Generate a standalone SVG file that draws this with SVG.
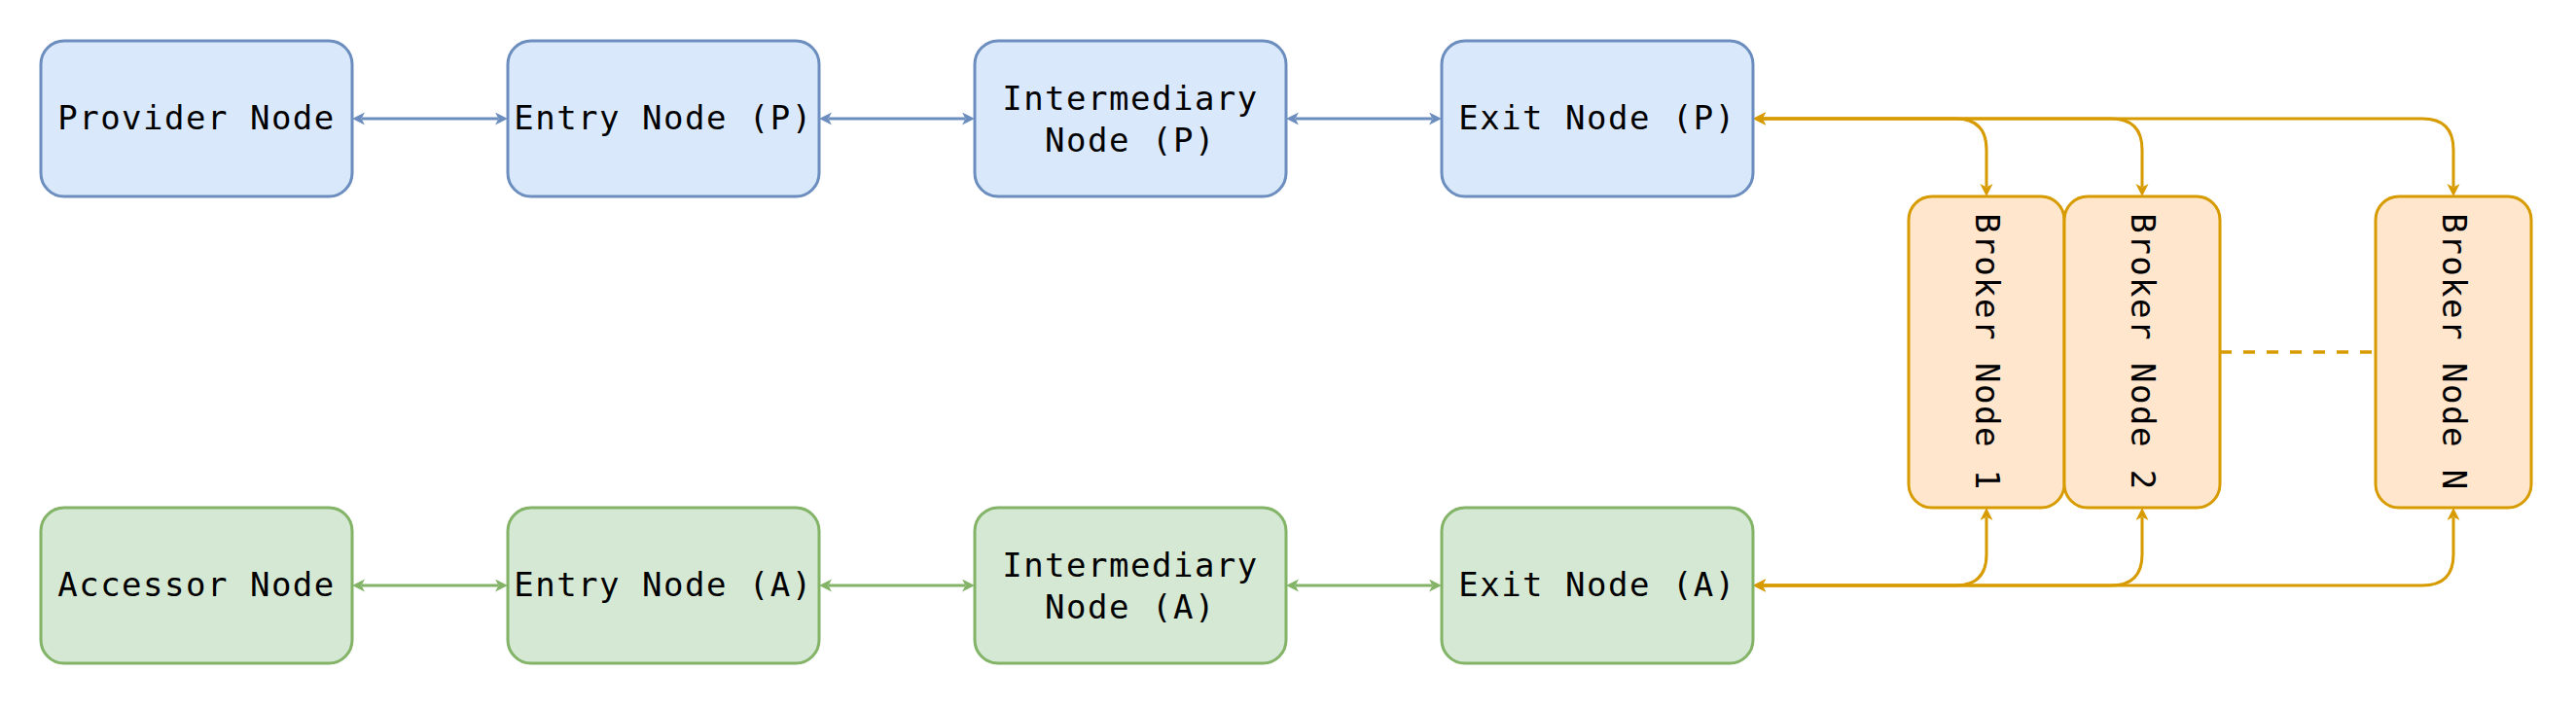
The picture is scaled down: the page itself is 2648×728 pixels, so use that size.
<svg xmlns="http://www.w3.org/2000/svg" width="2648" height="728" viewBox="0 0 2648 728">
<style>
.blue{fill:#dae8fc;stroke:#6c8ebf;stroke-width:3}
.green{fill:#d5e8d4;stroke:#82b366;stroke-width:3}
.orange{fill:#ffe6cc;stroke:#d79b00;stroke-width:3}
text{font-family:"DejaVu Sans Mono","Liberation Mono",monospace;font-size:34px;letter-spacing:1.5px;fill:#000;text-anchor:middle}
.cb{fill:none;stroke:#6c8ebf;stroke-width:3;marker-start:url(#ab);marker-end:url(#ab)}
.cg{fill:none;stroke:#82b366;stroke-width:3;marker-start:url(#ag);marker-end:url(#ag)}
.co{fill:none;stroke:#d79b00;stroke-width:3;marker-start:url(#ao);marker-end:url(#ao)}
.dash{fill:none;stroke:#d79b00;stroke-width:3.5;stroke-dasharray:12 12}
</style>
<defs>
<marker id="ab" markerUnits="userSpaceOnUse" markerWidth="14" markerHeight="14" refX="3" refY="6.5" orient="auto-start-reverse" viewBox="0 0 14 14"><path d="M0,0 L13,6.5 L0,13 L3.5,6.5 Z" fill="#6c8ebf"/></marker>
<marker id="ag" markerUnits="userSpaceOnUse" markerWidth="14" markerHeight="14" refX="3" refY="6.5" orient="auto-start-reverse" viewBox="0 0 14 14"><path d="M0,0 L13,6.5 L0,13 L3.5,6.5 Z" fill="#82b366"/></marker>
<marker id="ao" markerUnits="userSpaceOnUse" markerWidth="14" markerHeight="14" refX="3" refY="6.5" orient="auto-start-reverse" viewBox="0 0 14 14"><path d="M0,0 L13,6.5 L0,13 L3.5,6.5 Z" fill="#d79b00"/></marker>
</defs>
<rect width="2648" height="728" fill="#fff"/>
<g id="connectors">
<path class="cb" d="M372,122 H512"/>
<path class="cb" d="M852,122 H992"/>
<path class="cb" d="M1332,122 H1472"/>
<path class="cg" d="M372,602 H512"/>
<path class="cg" d="M852,602 H992"/>
<path class="cg" d="M1332,602 H1472"/>
<path class="co" d="M1812,122 H2010 Q2042,122 2042,154 V192"/>
<path class="co" d="M1812,122 H2170 Q2202,122 2202,154 V192"/>
<path class="co" d="M1812,122 H2490 Q2522,122 2522,154 V192"/>
<path class="co" d="M1812,602 H2010 Q2042,602 2042,570 V532"/>
<path class="co" d="M1812,602 H2170 Q2202,602 2202,570 V532"/>
<path class="co" d="M1812,602 H2490 Q2522,602 2522,570 V532"/>
<path class="dash" d="M2282,362 H2442"/>
</g>
<g id="provider-node"><rect class="blue" x="42" y="42" width="320" height="160" rx="24"/><text x="202" y="133">Provider Node</text></g>
<g id="entry-node-p"><rect class="blue" x="522" y="42" width="320" height="160" rx="24"/><text x="682" y="133">Entry Node (P)</text></g>
<g id="intermediary-node-p"><rect class="blue" x="1002" y="42" width="320" height="160" rx="24"/><text x="1162" y="113">Intermediary</text><text x="1162" y="156">Node (P)</text></g>
<g id="exit-node-p"><rect class="blue" x="1482" y="42" width="320" height="160" rx="24"/><text x="1642" y="133">Exit Node (P)</text></g>
<g id="accessor-node"><rect class="green" x="42" y="522" width="320" height="160" rx="24"/><text x="202" y="613">Accessor Node</text></g>
<g id="entry-node-a"><rect class="green" x="522" y="522" width="320" height="160" rx="24"/><text x="682" y="613">Entry Node (A)</text></g>
<g id="intermediary-node-a"><rect class="green" x="1002" y="522" width="320" height="160" rx="24"/><text x="1162" y="593">Intermediary</text><text x="1162" y="636">Node (A)</text></g>
<g id="exit-node-a"><rect class="green" x="1482" y="522" width="320" height="160" rx="24"/><text x="1642" y="613">Exit Node (A)</text></g>
<g id="broker-node-1"><rect class="orange" x="1962" y="202" width="160" height="320" rx="24"/><text transform="translate(2042,362) rotate(90)" x="0" y="11">Broker Node 1</text></g>
<g id="broker-node-2"><rect class="orange" x="2122" y="202" width="160" height="320" rx="24"/><text transform="translate(2202,362) rotate(90)" x="0" y="11">Broker Node 2</text></g>
<g id="broker-node-n"><rect class="orange" x="2442" y="202" width="160" height="320" rx="24"/><text transform="translate(2522,362) rotate(90)" x="0" y="11">Broker Node N</text></g>
</svg>
